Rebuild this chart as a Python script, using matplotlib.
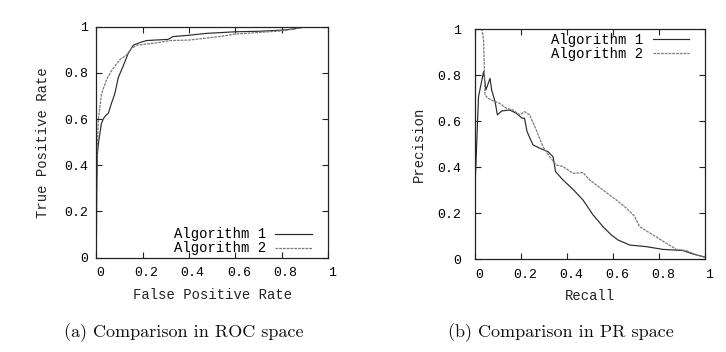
import numpy as np
import matplotlib
matplotlib.use("Agg")
import matplotlib.pyplot as plt
from matplotlib.transforms import ScaledTranslation

# ROC space
roc1_fpr = [0.0, 0.002, 0.005, 0.01, 0.016, 0.022, 0.03, 0.04, 0.052, 0.066, 0.08, 0.095, 0.116, 0.138,
            0.16, 0.19, 0.217, 0.27, 0.31, 0.33, 0.4, 0.475, 0.6, 0.7, 0.8, 0.85, 0.9, 1.0]
roc1_tpr = [0.0, 0.3, 0.45, 0.5, 0.54, 0.58, 0.6, 0.615, 0.625, 0.67, 0.71, 0.78, 0.83, 0.885,
            0.92, 0.932, 0.94, 0.943, 0.945, 0.957, 0.963, 0.971, 0.978, 0.98, 0.985, 0.99, 1.0, 1.0]
roc2_fpr = [0.0, 0.002, 0.005, 0.009, 0.023, 0.044, 0.066, 0.1, 0.13, 0.152, 0.174, 0.26,
            0.317, 0.4, 0.53, 0.6, 0.7, 0.8, 0.85, 0.9, 1.0]
roc2_tpr = [0.0, 0.35, 0.5, 0.6, 0.71, 0.77, 0.81, 0.856, 0.877, 0.906, 0.92, 0.93,
            0.94, 0.942, 0.957, 0.968, 0.975, 0.982, 0.99, 0.998, 1.0]

# PR space
pr1_rec = [0.0, 0.014, 0.036, 0.046, 0.064, 0.071, 0.086, 0.096, 0.115, 0.149, 0.178, 0.204,
           0.214, 0.225, 0.251, 0.28, 0.316, 0.338, 0.349, 0.381, 0.425, 0.468, 0.512, 0.555,
           0.591, 0.62, 0.671, 0.743, 0.816, 0.903, 0.946, 1.0]
pr1_prec = [0.345, 0.707, 0.816, 0.736, 0.787, 0.736, 0.685, 0.628, 0.645, 0.649, 0.635, 0.613,
            0.613, 0.555, 0.497, 0.483, 0.468, 0.446, 0.381, 0.345, 0.304, 0.258, 0.193, 0.142,
            0.106, 0.084, 0.062, 0.055, 0.043, 0.038, 0.023, 0.009]
pr2_rec = [0.026, 0.036, 0.039, 0.042, 0.055, 0.084, 0.106, 0.135, 0.164, 0.193, 0.214, 0.236,
           0.265, 0.294, 0.323, 0.352, 0.381, 0.425, 0.468, 0.497, 0.555, 0.613, 0.657, 0.693,
           0.714, 0.772, 0.83, 0.874, 0.917, 0.961, 1.0]
pr2_prec = [1.02, 0.954, 0.84, 0.715, 0.70, 0.686, 0.678, 0.657, 0.649, 0.628, 0.642, 0.628,
            0.562, 0.49, 0.446, 0.41, 0.403, 0.374, 0.377, 0.345, 0.301, 0.258, 0.222, 0.186,
            0.142, 0.106, 0.07, 0.043, 0.038, 0.019, 0.009]

ticks = [0, 0.2, 0.4, 0.6, 0.8, 1]
tick_labels = ["0", "0.2", "0.4", "0.6", "0.8", "1"]
legend_labels = ["Algorithm 1", "Algorithm 2"]

MONO = "Liberation Mono"
C1 = "#2a2a2a"
C2 = "#7a7a7a"
DASH = (0, (2.2, 0.8))

fig = plt.figure(figsize=(7.26, 3.52), dpi=100)
ax1 = fig.add_axes([0.1326, 0.2679, 0.3196, 0.6563])
ax2 = fig.add_axes([0.6547, 0.2634, 0.3168, 0.6534])

def style(ax, xlabel, ylabel, ypad, ylabpad):
    ax.set_xlim(0, 1); ax.set_ylim(0, 1)
    ax.set_xticks(ticks); ax.set_yticks(ticks)
    ax.set_xticklabels(tick_labels, fontfamily=MONO, fontsize=9.5)
    ax.set_yticklabels(tick_labels, fontfamily=MONO, fontsize=9.5)
    ax.tick_params(direction="in", length=4, width=0.8, top=True, right=True, color="#222222")
    ax.tick_params(axis="x", pad=7)
    ax.tick_params(axis="y", pad=ypad)
    for lab in ax.get_xticklabels():
        lab.set_transform(lab.get_transform() + ScaledTranslation(0.035, 0, fig.dpi_scale_trans))
    for s in ax.spines.values():
        s.set_linewidth(0.9); s.set_color("#222222")
    ax.set_xlabel(xlabel, fontfamily=MONO, fontsize=10, color="#222222", labelpad=6)
    ax.set_ylabel(ylabel, fontfamily=MONO, fontsize=10, color="#222222", labelpad=ylabpad)

ax1.plot(roc1_fpr, roc1_tpr, color=C1, lw=0.85, label=legend_labels[0])
ax1.plot(roc2_fpr, roc2_tpr, color=C2, lw=0.9, ls=DASH, label=legend_labels[1])
style(ax1, "False Positive Rate", "True Positive Rate", 6, 10)
ax1.legend(loc="lower right", bbox_to_anchor=(0.928, 0.01), frameon=False, markerfirst=False,
           prop={"family": MONO, "size": 10}, handlelength=2.6, handletextpad=0.7,
           labelspacing=0.0, borderpad=0, borderaxespad=0)

ax2.plot(pr1_rec, pr1_prec, color=C1, lw=0.85, label=legend_labels[0])
ax2.plot(pr2_rec, pr2_prec, color=C2, lw=0.9, ls=DASH, label=legend_labels[1])
style(ax2, "Recall", "Precision", 10, 8)
ax2.legend(loc="upper right", bbox_to_anchor=(0.928, 0.984), frameon=False, markerfirst=False,
           prop={"family": MONO, "size": 10}, handlelength=2.6, handletextpad=0.7,
           labelspacing=0.0, borderpad=0, borderaxespad=0)

fig.text(183.7 / 726, 1 - 333 / 352, "(a) Comparison in ROC space", fontfamily="cmr10",
         fontsize=13, ha="center", va="center", color="#111111")
fig.text(561.3 / 726, 1 - 333 / 352, "(b) Comparison in PR space", fontfamily="cmr10",
         fontsize=13, ha="center", va="center", color="#111111")

fig.savefig("out.png", dpi=100)
